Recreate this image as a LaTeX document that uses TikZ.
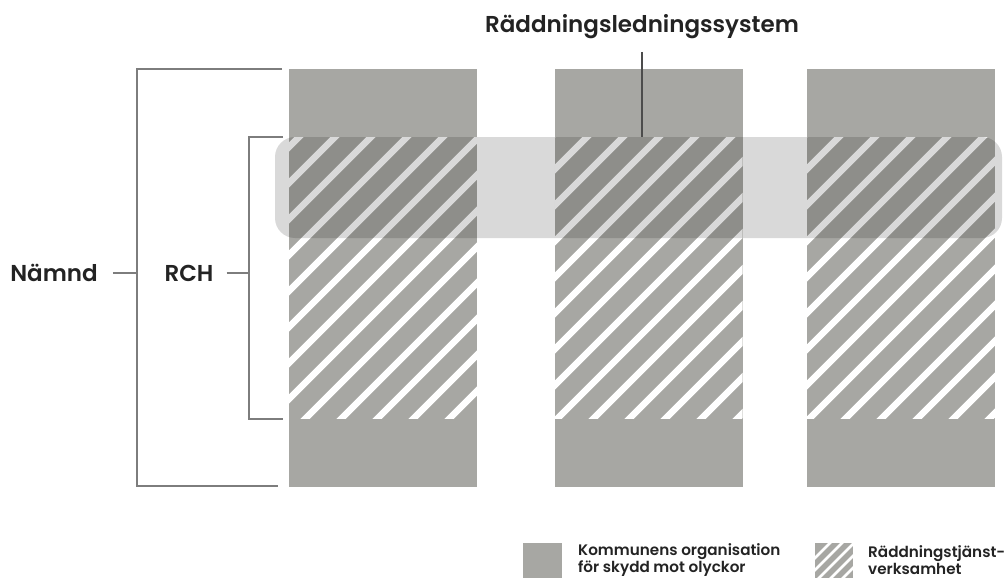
\documentclass[tikz,border=0pt]{standalone}
\usepackage{fontspec}
\setmainfont{Poppins}[BoldFont={Poppins SemiBold}]
\usetikzlibrary{positioning}

\definecolor{colgray}{RGB}{167,167,163}
\definecolor{linegray}{RGB}{125,125,125}
\definecolor{textgray}{RGB}{35,35,35}

\begin{document}
\begin{tikzpicture}[
  x=1pt, y=-1pt,
  column/.style={fill=colgray, inner sep=0pt, minimum width=188pt, minimum height=418pt},
  band/.style={fill=black, fill opacity=0.15, rounded corners=20pt, inner sep=0pt, minimum width=727pt, minimum height=101pt},
  label/.style={font=\bfseries\fontsize{23}{26}\selectfont, text=textgray, inner sep=0pt},
  legtext/.style={font=\bfseries\fontsize{15.2}{17}\selectfont, text=textgray, align=left, inner sep=0pt},
  bracket/.style={draw=linegray, line width=1.6pt},
  lead/.style={draw=black!70, line width=1.2pt},
  stripe/.style={white, line width=6.5pt}
]
\useasboundingbox (0,0) rectangle (1004,578);

% the three organisations
\node[column] (col1) at (383,278) {};
\node[column] (col2) at (648.5,278) {};
\node[column] (col3) at (901,278) {};

% hatched part
\coordinate (htop) at (0,137);
\coordinate (hbot) at (0,418);
\foreach \c in {col1,col2,col3} {
  \begin{scope}
    \clip (\c.west |- htop) rectangle (\c.east |- hbot);
    \foreach \k in {-10,...,27}
      \draw[stripe] (322+36*\k,438) -- ++(330,-330);
  \end{scope}
}

% command system band
\node[band] (band) at (638.5,187.5) {};

\node[label] (title) at (642,27) {Räddningsledningssystem};
\coordinate (tl) at (642,52);
\draw[lead] (tl) -- (tl |- band.north);

% brackets
\node[label] (namnd) at (54,273) {Nämnd};
\coordinate (n1) at (282,69);
\coordinate (n2) at (137,69);
\coordinate (n3) at (137,486);
\coordinate (n4) at (278,486);
\draw[bracket] (n1) -- (n2) -- (n3) -- (n4);
\draw[bracket] ([xshift=15pt]namnd.east) -- (namnd.east -| n2);

\node[label] (rch) at (189,273) {RCH};
\coordinate (r1) at (283,137);
\coordinate (r2) at (249,137);
\coordinate (r3) at (249,419);
\coordinate (r4) at (283,419);
\draw[bracket] (r1) -- (r2) -- (r3) -- (r4);
\draw[bracket] ([xshift=13pt]rch.east) -- (rch.east -| r2);

% legend
\node[column, minimum width=39pt, minimum height=35pt] (legorg) at (542.5,560.5) {};
\node[legtext, anchor=west] (legorgtext) at (578,560) {Kommunens organisation\\för skydd mot olyckor};

\node[column, minimum width=38pt, minimum height=35pt] (leghatch) at (834,560.5) {};
\begin{scope}
  \clip (leghatch.south west) rectangle (leghatch.north east);
  \foreach \k in {-1,...,6}
    \draw[white, line width=2.5pt] (800+12*\k,585) -- ++(50,-50);
\end{scope}
\node[legtext, anchor=west] (leghatchtext) at (868,560) {Räddningstjänst-\\verksamhet};

\end{tikzpicture}
\end{document}
